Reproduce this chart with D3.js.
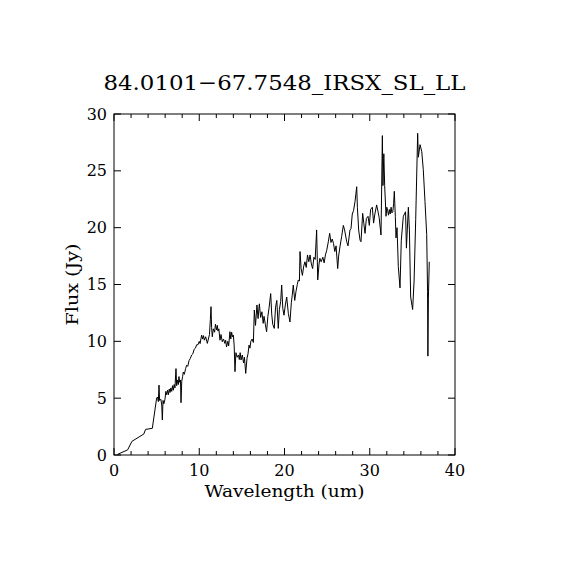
<!DOCTYPE html>
<html>
<head>
<meta charset="utf-8">
<script src="https://cdn.jsdelivr.net/npm/d3@7"></script>
<style>
  body { margin: 0; background: #fff; }
  svg { display: block; }
  text { font-family: "DejaVu Serif", "Liberation Serif", serif; fill: #000; }
</style>
</head>
<body>
<svg width="570" height="570"></svg>
<script>
const title = "84.0101\u221267.7548_IRSX_SL_LL";
const xLabel = "Wavelength (um)";
const yLabel = "Flux (Jy)";
const xTicks = [0, 10, 20, 30, 40];
const yTicks = [0, 5, 10, 15, 20, 25, 30];

// spectrum (um, Jy)
const wavelength = [
  0.4, 1.6, 2.1, 3.5, 3.7, 4.5, 4.6, 5.0, 5.1, 5.2, 5.28, 5.35, 5.5, 5.6, 5.67, 5.75, 5.85, 5.98,
  6.08, 6.18, 6.28, 6.38, 6.48, 6.57, 6.67, 6.77, 6.87, 6.96, 7.06, 7.15, 7.27, 7.35, 7.45, 7.55,
  7.62, 7.7, 7.8, 7.86, 7.95, 8.05, 8.13, 8.25, 8.4, 8.52, 8.65, 8.8, 8.95, 9.11, 9.25, 9.4, 9.55,
  9.7, 9.85, 10.0, 10.1, 10.28, 10.4, 10.5, 10.6, 10.75, 10.95, 11.1, 11.2, 11.3, 11.38, 11.45,
  11.53, 11.65, 11.8, 11.9, 12.04, 12.12, 12.2, 12.3, 12.43, 12.55, 12.7, 12.85, 13.0, 13.1, 13.2,
  13.35, 13.45, 13.6, 13.7, 13.8, 13.9, 14.0, 14.1, 14.19, 14.3, 14.45, 14.6, 14.7, 14.8, 14.9,
  15.05, 15.2, 15.3, 15.45, 15.6, 15.72, 15.84, 15.95, 16.05, 16.2, 16.35, 16.46, 16.6, 16.77,
  16.9, 17.05, 17.2, 17.35, 17.5, 17.6, 17.75, 17.9, 18.05, 18.2, 18.38, 18.5, 18.62, 18.8, 18.95,
  19.1, 19.27, 19.4, 19.55, 19.67, 19.8, 19.94, 20.1, 20.26, 20.45, 20.64, 20.8, 20.9, 21.03, 21.2,
  21.35, 21.5, 21.62, 21.75, 21.82, 21.95, 22.1, 22.25, 22.4, 22.55, 22.7, 22.85, 23.0, 23.15,
  23.3, 23.45, 23.6, 23.77, 23.9, 24.05, 24.15, 24.3, 24.5, 24.65, 24.8, 24.95, 25.14, 25.3, 25.45,
  25.6, 25.75, 25.9, 26.05, 26.24, 26.35, 26.5, 26.7, 26.9, 27.05, 27.3, 27.45, 27.68, 27.8, 27.95,
  28.1, 28.27, 28.47, 28.55, 28.7, 28.86, 28.97, 29.17, 29.3, 29.45, 29.6, 29.8, 29.95, 30.1, 30.3,
  30.45, 30.6, 30.81, 31.0, 31.1, 31.32, 31.48, 31.55, 31.65, 31.75, 31.91, 32.0, 32.1, 32.2, 32.3,
  32.4, 32.5, 32.6, 32.7, 32.8, 32.88, 33.0, 33.08, 33.2, 33.35, 33.55, 33.7, 33.94, 34.2, 34.3,
  34.53, 34.65, 34.8, 35.03, 35.2, 35.39, 35.62, 35.7, 35.9, 36.1, 36.28, 36.48, 36.68, 36.78,
  36.82, 36.88, 36.98
];
const flux = [
  0.05, 0.45, 1.2, 1.85, 2.25, 2.35, 2.9, 5.0, 5.1, 4.7, 6.15, 4.8, 4.9, 4.4, 3.08, 4.8, 4.5, 4.9,
  5.6, 5.3, 5.7, 5.3, 5.8, 5.5, 5.9, 5.6, 6.1, 5.7, 6.2, 5.9, 7.6, 6.1, 6.6, 6.2,
  6.9, 6.4, 6.6, 4.6, 6.5, 6.9, 7.3, 7.1, 7.6, 7.9, 7.8, 8.3, 8.5, 8.8, 8.9, 9.3, 9.4,
  9.7, 9.7, 10.0, 9.8, 10.55, 10.2, 10.5, 10.1, 10.4, 9.82, 10.3, 10.6, 11.9, 13.05, 11.2,
  10.4, 11.1, 10.8, 11.5, 11.0, 11.4, 10.9, 11.1, 10.1, 10.6, 9.97, 10.2, 9.82, 10.1, 9.5,
  10.0, 9.6, 10.85, 10.2, 10.8, 10.4, 10.55, 9.6, 7.33, 9.0, 8.6, 8.8, 8.4, 9.0, 8.36,
  8.8, 8.1, 8.6, 7.18, 8.5, 8.9, 9.67, 9.4, 10.0, 10.2, 9.9, 12.75, 11.4, 13.2,
  12.0, 13.3, 12.1, 12.6, 11.58, 12.2, 11.5, 10.85, 12.2, 13.0, 14.2, 12.4, 11.5, 11.14, 13.0,
  13.6, 11.14, 12.8, 13.5, 14.95, 12.9, 12.3, 13.2, 13.9, 12.46, 11.7, 13.4, 14.0, 14.95, 13.6,
  14.4, 15.0, 15.4, 15.3, 17.9, 16.4, 15.8, 16.6, 17.0, 16.5, 17.6, 17.0, 17.6, 16.8,
  16.4, 17.4, 17.2, 19.8, 15.4, 16.8, 17.3, 17.0, 17.4, 16.9, 17.6, 18.0, 18.76, 19.5, 18.7,
  19.0, 18.6, 17.9, 18.4, 16.4, 17.5, 18.3, 19.2, 20.2, 19.8, 18.76, 18.4, 19.8, 19.9, 21.2,
  21.5, 22.3, 23.6, 21.8, 19.8, 18.9, 18.76, 21.26, 20.4, 19.5, 20.8, 21.0, 20.2, 21.6, 21.8,
  20.4, 21.2, 22.0, 21.3, 20.9, 19.35, 28.1, 23.7, 26.5, 23.7, 21.0, 21.8, 21.5, 21.1, 21.6,
  21.2, 21.8, 21.3, 21.4, 22.1, 23.2, 21.0, 19.1, 20.0, 16.6, 14.7, 18.9, 21.0, 21.4, 18.2,
  21.8, 19.8, 13.9, 12.8, 15.3, 20.7, 28.3, 26.2, 27.3, 26.7, 25.1, 22.3, 19.4, 14.4,
  8.7, 13.8, 17.0
];

const svg = d3.select("svg");
const margin = { top: 114, right: 115, bottom: 115, left: 114 };
const width = 570 - margin.left - margin.right;
const height = 570 - margin.top - margin.bottom;

const x = d3.scaleLinear().domain([0, 40]).range([0, width]);
const y = d3.scaleLinear().domain([0, 30]).range([height, 0]);

const g = svg.append("g")
  .attr("transform", `translate(${margin.left},${margin.top})`);

// ticks, pointing inward on all four sides
const xMinor = d3.range(0, 41, 2);
const tickSize = v => (v % 10 === 0 ? 7 : 4);

g.append("g").selectAll("line")
  .data(xMinor)
  .join("line")
  .attr("x1", d => x(d)).attr("x2", d => x(d))
  .attr("y1", height).attr("y2", d => height - tickSize(d))
  .attr("stroke", "#000").attr("stroke-width", 1);

g.append("g").selectAll("line")
  .data(xMinor)
  .join("line")
  .attr("x1", d => x(d)).attr("x2", d => x(d))
  .attr("y1", 0).attr("y2", d => tickSize(d))
  .attr("stroke", "#000").attr("stroke-width", 1);

g.append("g").selectAll("line")
  .data(yTicks)
  .join("line")
  .attr("x1", 0).attr("x2", 7)
  .attr("y1", d => y(d)).attr("y2", d => y(d))
  .attr("stroke", "#000").attr("stroke-width", 1);

g.append("g").selectAll("line")
  .data(yTicks)
  .join("line")
  .attr("x1", width).attr("x2", width - 7)
  .attr("y1", d => y(d)).attr("y2", d => y(d))
  .attr("stroke", "#000").attr("stroke-width", 1);

g.append("rect")
  .attr("x", 0).attr("y", 0)
  .attr("width", width).attr("height", height)
  .attr("fill", "none")
  .attr("stroke", "#000")
  .attr("stroke-width", 1);

// tick labels
g.append("g").selectAll("text")
  .data(xTicks)
  .join("text")
  .attr("x", d => x(d))
  .attr("y", height + 21)
  .attr("text-anchor", "middle")
  .attr("font-size", 16)
  .text(d => d);

g.append("g").selectAll("text")
  .data(yTicks)
  .join("text")
  .attr("x", -7)
  .attr("y", d => y(d))
  .attr("dy", "0.35em")
  .attr("text-anchor", "end")
  .attr("font-size", 16)
  .text(d => d);

// spectrum
const idx = d3.range(wavelength.length);
const line = d3.line()
  .x(i => x(wavelength[i]))
  .y(i => y(flux[i]));

g.append("path")
  .datum(idx)
  .attr("fill", "none")
  .attr("stroke", "#000")
  .attr("stroke-width", 1)
  .attr("d", line);

// labels
svg.append("text")
  .attr("x", margin.left + width / 2)
  .attr("y", 90)
  .attr("text-anchor", "middle")
  .attr("font-size", 21)
  .attr("textLength", 362)
  .attr("lengthAdjust", "spacingAndGlyphs")
  .text(title);

svg.append("text")
  .attr("x", margin.left + width / 2)
  .attr("y", 497)
  .attr("text-anchor", "middle")
  .attr("font-size", 16)
  .attr("textLength", 160)
  .attr("lengthAdjust", "spacingAndGlyphs")
  .text(xLabel);

svg.append("text")
  .attr("transform", `translate(78,${margin.top + height / 2}) rotate(-90)`)
  .attr("text-anchor", "middle")
  .attr("font-size", 16)
  .attr("textLength", 82)
  .attr("lengthAdjust", "spacingAndGlyphs")
  .text(yLabel);
</script>
</body>
</html>
